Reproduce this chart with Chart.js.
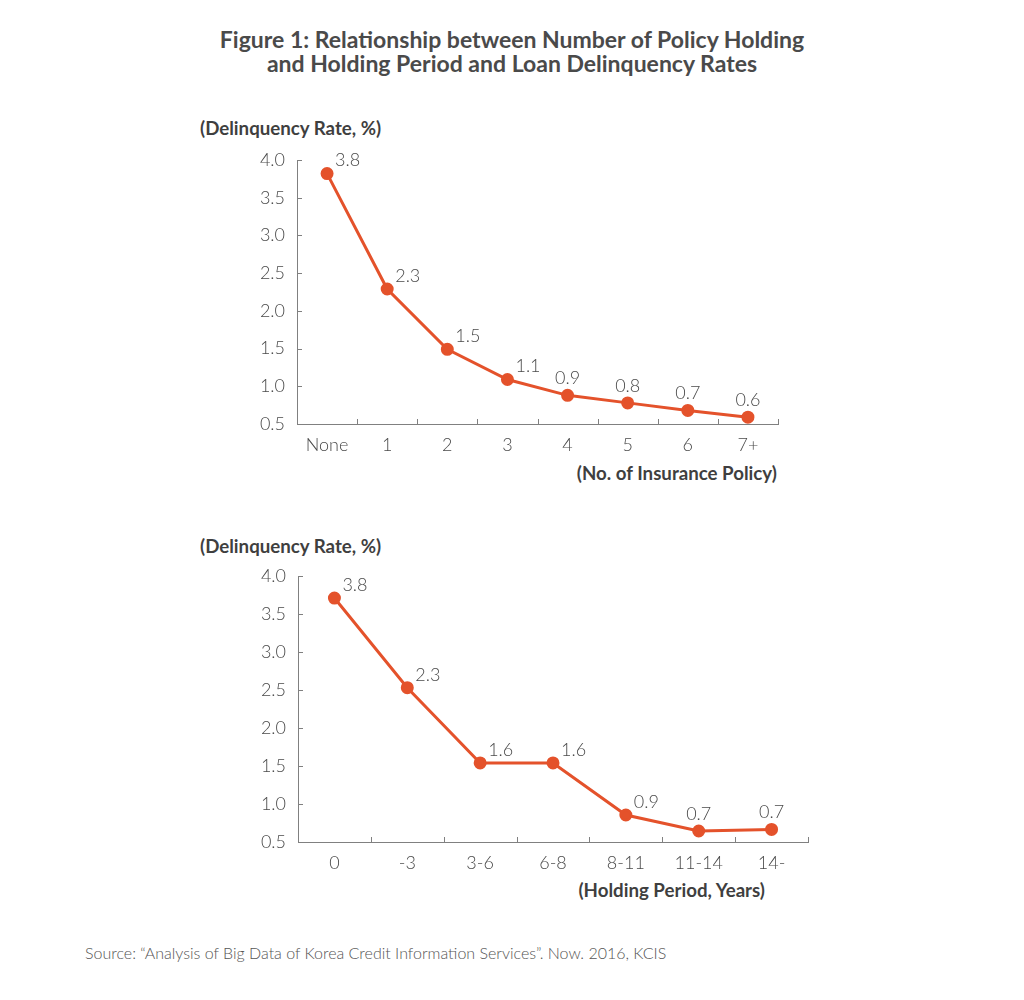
<!DOCTYPE html>
<html>
<head>
<meta charset="utf-8">
<script src="https://cdn.jsdelivr.net/npm/chart.js@4/dist/chart.umd.min.js"></script>
<style>
  html, body { margin: 0; padding: 0; background: #fff; }
  body { width: 1024px; height: 1000px; position: relative; overflow: hidden; font-family: Lato, "Open Sans", sans-serif; }
  .title { position: absolute; left: 0; width: 1024px; top: 27px; text-align: center; font-weight: bold; font-size: 23px; line-height: 24px; color: #4a4a4a; }
  .ytitle, .xtitle { position: absolute; font-weight: bold; font-size: 18.7px; color: #3f3f3f; white-space: nowrap; line-height: 20px; }
  .source { position: absolute; left: 85px; top: 943px; font-size: 16px; color: #555; white-space: nowrap; font-weight: 300; }
  canvas { position: absolute; left: 0; }
</style>
</head>
<body>
<div class="title">Figure 1: Relationship between Number of Policy Holding<br>and Holding Period and Loan Delinquency Rates</div>

<div class="ytitle" style="left:200px; top:118px;">(Delinquency Rate, %)</div>
<div class="xtitle" style="right:247px; top:463px;">(No. of Insurance Policy)</div>
<canvas id="c1" width="1024" height="400" style="top:100px;"></canvas>

<div class="ytitle" style="left:200px; top:536px;">(Delinquency Rate, %)</div>
<div class="xtitle" style="right:259px; top:880px;">(Holding Period, Years)</div>
<canvas id="c2" width="1024" height="400" style="top:520px;"></canvas>

<div class="source">Source: “Analysis of Big Data of Korea Credit Information Services”. Now. 2016, KCIS</div>

<script>
// ---- Data ----
const policyCategories = ["None", "1", "2", "3", "4", "5", "6", "7+"];
const policyRates = [3.82, 2.29, 1.49, 1.09, 0.88, 0.78, 0.68, 0.59];
const policyLabels = ["3.8", "2.3", "1.5", "1.1", "0.9", "0.8", "0.7", "0.6"];

const periodCategories = ["0", "-3", "3-6", "6-8", "8-11", "11-14", "14-"];
const periodRates = [3.71, 2.53, 1.54, 1.54, 0.855, 0.645, 0.665];
const periodLabels = ["3.8", "2.3", "1.6", "1.6", "0.9", "0.7", "0.7"];

const yMin = 0.5, yMax = 4.0, yStep = 0.5;

// ---- Styles ----
const LINE_COLOR = "#e4522b";
const AXIS_COLOR = "#808080";
const TEXT_COLOR = "#4a4a4a";
const FONT = "Lato, 'Open Sans', sans-serif";

// plugin: inward tick marks + value labels
const decorPlugin = {
  id: "decor",
  afterDatasetsDraw(chart, args, opts) {
    const ctx = chart.ctx;
    const xs = chart.scales.x, ys = chart.scales.y;
    ctx.save();
    ctx.strokeStyle = AXIS_COLOR;
    ctx.lineWidth = 1;
    ys.ticks.forEach(t => {
      const py = Math.round(ys.getPixelForValue(t.value)) + 0.5;
      ctx.beginPath();
      ctx.moveTo(ys.right, py);
      ctx.lineTo(ys.right + 5, py);
      ctx.stroke();
    });
    const n = xs.ticks.length;
    for (let i = 0; i <= n; i++) {
      const px = Math.round(xs.getPixelForValue(i - 0.5)) + 0.5;
      ctx.beginPath();
      ctx.moveTo(px, xs.top);
      ctx.lineTo(px, xs.top - 5);
      ctx.stroke();
    }
    const meta = chart.getDatasetMeta(0);
    const labels = opts.labels, align = opts.align;
    ctx.fillStyle = TEXT_COLOR;
    ctx.font = "300 18px " + FONT;
    meta.data.forEach((pt, i) => {
      ctx.textBaseline = "middle";
      if (align[i] === "ne") {
        ctx.textAlign = "left";
        ctx.fillText(labels[i], pt.x + 8, pt.y - 13);
      } else {
        ctx.textAlign = "center";
        ctx.fillText(labels[i], pt.x, pt.y - 17);
      }
    });
    ctx.restore();
  }
};

function makeChart(id, cats, vals, labels, align, geo) {
  return new Chart(document.getElementById(id), {
    type: "line",
    data: {
      labels: cats,
      datasets: [{
        data: vals,
        borderColor: LINE_COLOR,
        backgroundColor: LINE_COLOR,
        borderWidth: 3,
        pointRadius: 5,
        pointBackgroundColor: LINE_COLOR,
        pointBorderColor: LINE_COLOR,
        tension: 0,
        fill: false
      }]
    },
    options: {
      responsive: false,
      devicePixelRatio: 1,
      animation: false,
      events: [],
      layout: { padding: { left: 0, top: geo.top, right: geo.right, bottom: 0 } },
      plugins: {
        legend: { display: false },
        tooltip: { enabled: false },
        decor: { labels: labels, align: align }
      },
      scales: {
        x: {
          type: "category",
          offset: true,
          grid: { display: false, drawTicks: false },
          border: { display: true, color: AXIS_COLOR, width: 1 },
          ticks: { color: TEXT_COLOR, font: { family: FONT, size: 18, weight: 300 }, padding: 10, maxRotation: 0, autoSkip: false },
          afterFit(s) { s.height = geo.xh; }
        },
        y: {
          min: yMin, max: yMax,
          grid: { display: false, drawTicks: false },
          border: { display: true, color: AXIS_COLOR, width: 1 },
          ticks: { stepSize: yStep, color: TEXT_COLOR, font: { family: FONT, size: 18, weight: 300 }, padding: 12,
                   callback: v => Number(v).toFixed(1) },
          afterFit(s) { s.width = geo.yw; }
        }
      }
    },
    plugins: [decorPlugin]
  });
}

makeChart("c1", policyCategories, policyRates, policyLabels,
  ["ne", "ne", "ne", "ne", "n", "n", "n", "n"],
  { top: 60, right: 246, xh: 76, yw: 297 });

makeChart("c2", periodCategories, periodRates, periodLabels,
  ["ne", "ne", "ne", "ne", "ne", "n", "n"],
  { top: 56, right: 216, xh: 78, yw: 298 });
</script>
</body>
</html>
